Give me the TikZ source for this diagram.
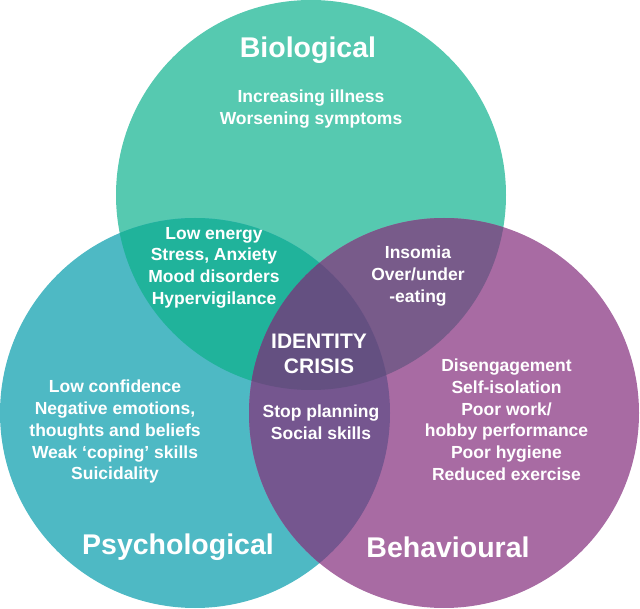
\documentclass[tikz,border=0pt]{standalone}
\usepackage{fontspec}
\setmainfont{Liberation Sans}
\usetikzlibrary{positioning}

\definecolor{bioCol}{RGB}{86,201,176}
\definecolor{psyCol}{RGB}{78,185,196}
\definecolor{behCol}{RGB}{168,107,163}
\definecolor{bioPsyCol}{RGB}{32,179,155}
\definecolor{bioBehCol}{RGB}{120,91,138}
\definecolor{psyBehCol}{RGB}{117,86,143}
\definecolor{coreCol}{RGB}{100,80,129}

\tikzset{
  title/.style={text=white, font=\bfseries\fontsize{28.5}{34}\selectfont, inner sep=0pt},
  item/.style={text=white, font=\bfseries\fontsize{17.5}{21.7}\selectfont, align=center, inner sep=0pt},
  core/.style={text=white, font=\bfseries\fontsize{21}{24.5}\selectfont, align=center, inner sep=0pt}
}

\newcommand{\bioCircle}{(311,195) circle (195)}
\newcommand{\psyCircle}{(195,413) circle (195)}
\newcommand{\behCircle}{(444,413) circle (195)}

\begin{document}
\begin{tikzpicture}[x=1pt,y=-1pt]
        \useasboundingbox (0,0) rectangle (640,609);
        % the three circles
        \fill[bioCol] \bioCircle;
        \fill[psyCol] \psyCircle;
        \fill[behCol] \behCircle;
        % overlaps
        \begin{scope}
            \clip \bioCircle;
            \fill[bioPsyCol] \psyCircle;
            \fill[bioBehCol] \behCircle;
        \end{scope}
        \begin{scope}
            \clip \psyCircle;
            \fill[psyBehCol] \behCircle;
        \end{scope}
        \begin{scope}
            \clip \bioCircle;
            \clip \psyCircle;
            \fill[coreCol] \behCircle;
        \end{scope}
        % titles
        \node[title] (bio) at (308,50.5) {Biological};
        \node[title] (psy) at (178,547.6) {Psychological};
        \node[title] (beh) at (448,547.6) {Behavioural};
        % texts
        \node[item] (bioText) at (311,108.7) {Increasing illness\\Worsening symptoms};
        \node[item] (bioPsy) at (214,267.6) {Low energy\\Stress, Anxiety\\Mood disorders\\Hypervigilance};
        \node[item] (bioBeh) at (418,276.2) {Insomia\\Over/under\\-eating};
        \node[core] (crisis) at (319,354) {IDENTITY\\CRISIS};
        \node[item] (psyText) at (115,431.8) {Low confidence\\Negative emotions,\\thoughts and beliefs\\Weak ‘coping’ skills\\Suicidality};
        \node[item] (psyBeh) at (321,422.3) {Stop planning\\Social skills};
        \node[item] (behText) at (506.5,419.8) {Disengagement\\Self-isolation\\Poor work/\\hobby performance\\Poor hygiene\\Reduced exercise};
    \end{tikzpicture}
\end{document}
